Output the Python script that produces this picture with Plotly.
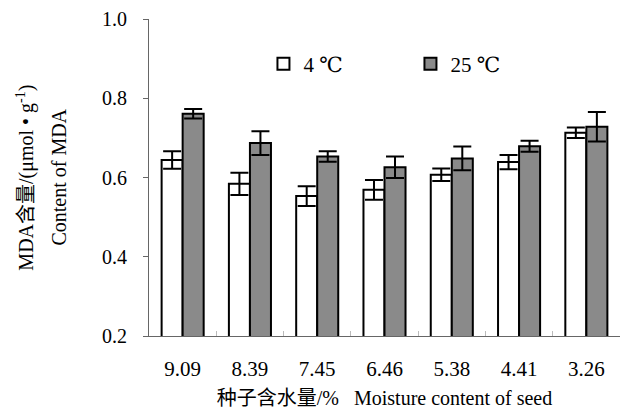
import plotly.graph_objects as go

categories = ["9.09", "8.39", "7.45", "6.46", "5.38", "4.41", "3.26"]
mda_4c = [0.644, 0.584, 0.553, 0.569, 0.607, 0.639, 0.713]
err_4c = [0.022, 0.028, 0.025, 0.025, 0.016, 0.018, 0.013]
mda_25c = [0.761, 0.687, 0.653, 0.626, 0.648, 0.679, 0.728]
err_25c = [0.012, 0.030, 0.013, 0.027, 0.030, 0.014, 0.037]

FONT = "Liberation Serif, DejaVu Serif, Noto Sans CJK SC, serif"

fig = go.Figure()
fig.add_trace(go.Bar(
    x=categories, y=mda_4c, name="4 ℃",
    marker=dict(color="white", line=dict(color="black", width=2)),
    error_y=dict(type="data", array=err_4c, visible=True, color="black", thickness=2, width=9),
))
fig.add_trace(go.Bar(
    x=categories, y=mda_25c, name="25 ℃",
    marker=dict(color="#8a8a8a", line=dict(color="black", width=2)),
    error_y=dict(type="data", array=err_25c, visible=True, color="black", thickness=2, width=9),
))

fig.update_layout(
    width=625, height=411,
    margin=dict(l=149, r=5, t=19, b=75),
    paper_bgcolor="white", plot_bgcolor="white",
    barmode="group", bargap=0.375, bargroupgap=0,
    font=dict(family=FONT, color="black", size=20),
    showlegend=True,
    legend=dict(orientation="h", x=0.243, y=0.858, xanchor="left", yanchor="middle",
                entrywidth=102, entrywidthmode="pixels",
                font=dict(size=21, family=FONT), bgcolor="rgba(0,0,0,0)"),
    xaxis=dict(
        showline=True, linecolor="#666", linewidth=1,
        ticks="inside", tickson="boundaries", ticklen=5, tickcolor="#bbb",
        tickfont=dict(size=21), ticklabelstandoff=14,
        title=dict(text="种子含水量/%\u00a0\u00a0\u00a0Moisture content of seed",
                   font=dict(size=20), standoff=10),
    ),
    yaxis=dict(
        range=[0.2, 1.0], dtick=0.2, tickformat=".1f",
        showline=True, linecolor="#666", linewidth=1,
        ticks="outside", ticklen=5, tickcolor="#666",
        showgrid=False, zeroline=False,
        tickfont=dict(size=20), ticklabelstandoff=12,
    ),
    annotations=[
        dict(text="MDA含量/(μmol • g<sup>-1</sup>)", xref="paper", yref="paper",
             x=-0.263, y=0.5, textangle=-90, showarrow=False,
             xanchor="center", yanchor="middle", font=dict(size=20)),
        dict(text="Content of MDA", xref="paper", yref="paper",
             x=-0.193, y=0.5, textangle=-90, showarrow=False,
             xanchor="center", yanchor="middle", font=dict(size=20)),
    ],
)

fig.write_html("out.html")
